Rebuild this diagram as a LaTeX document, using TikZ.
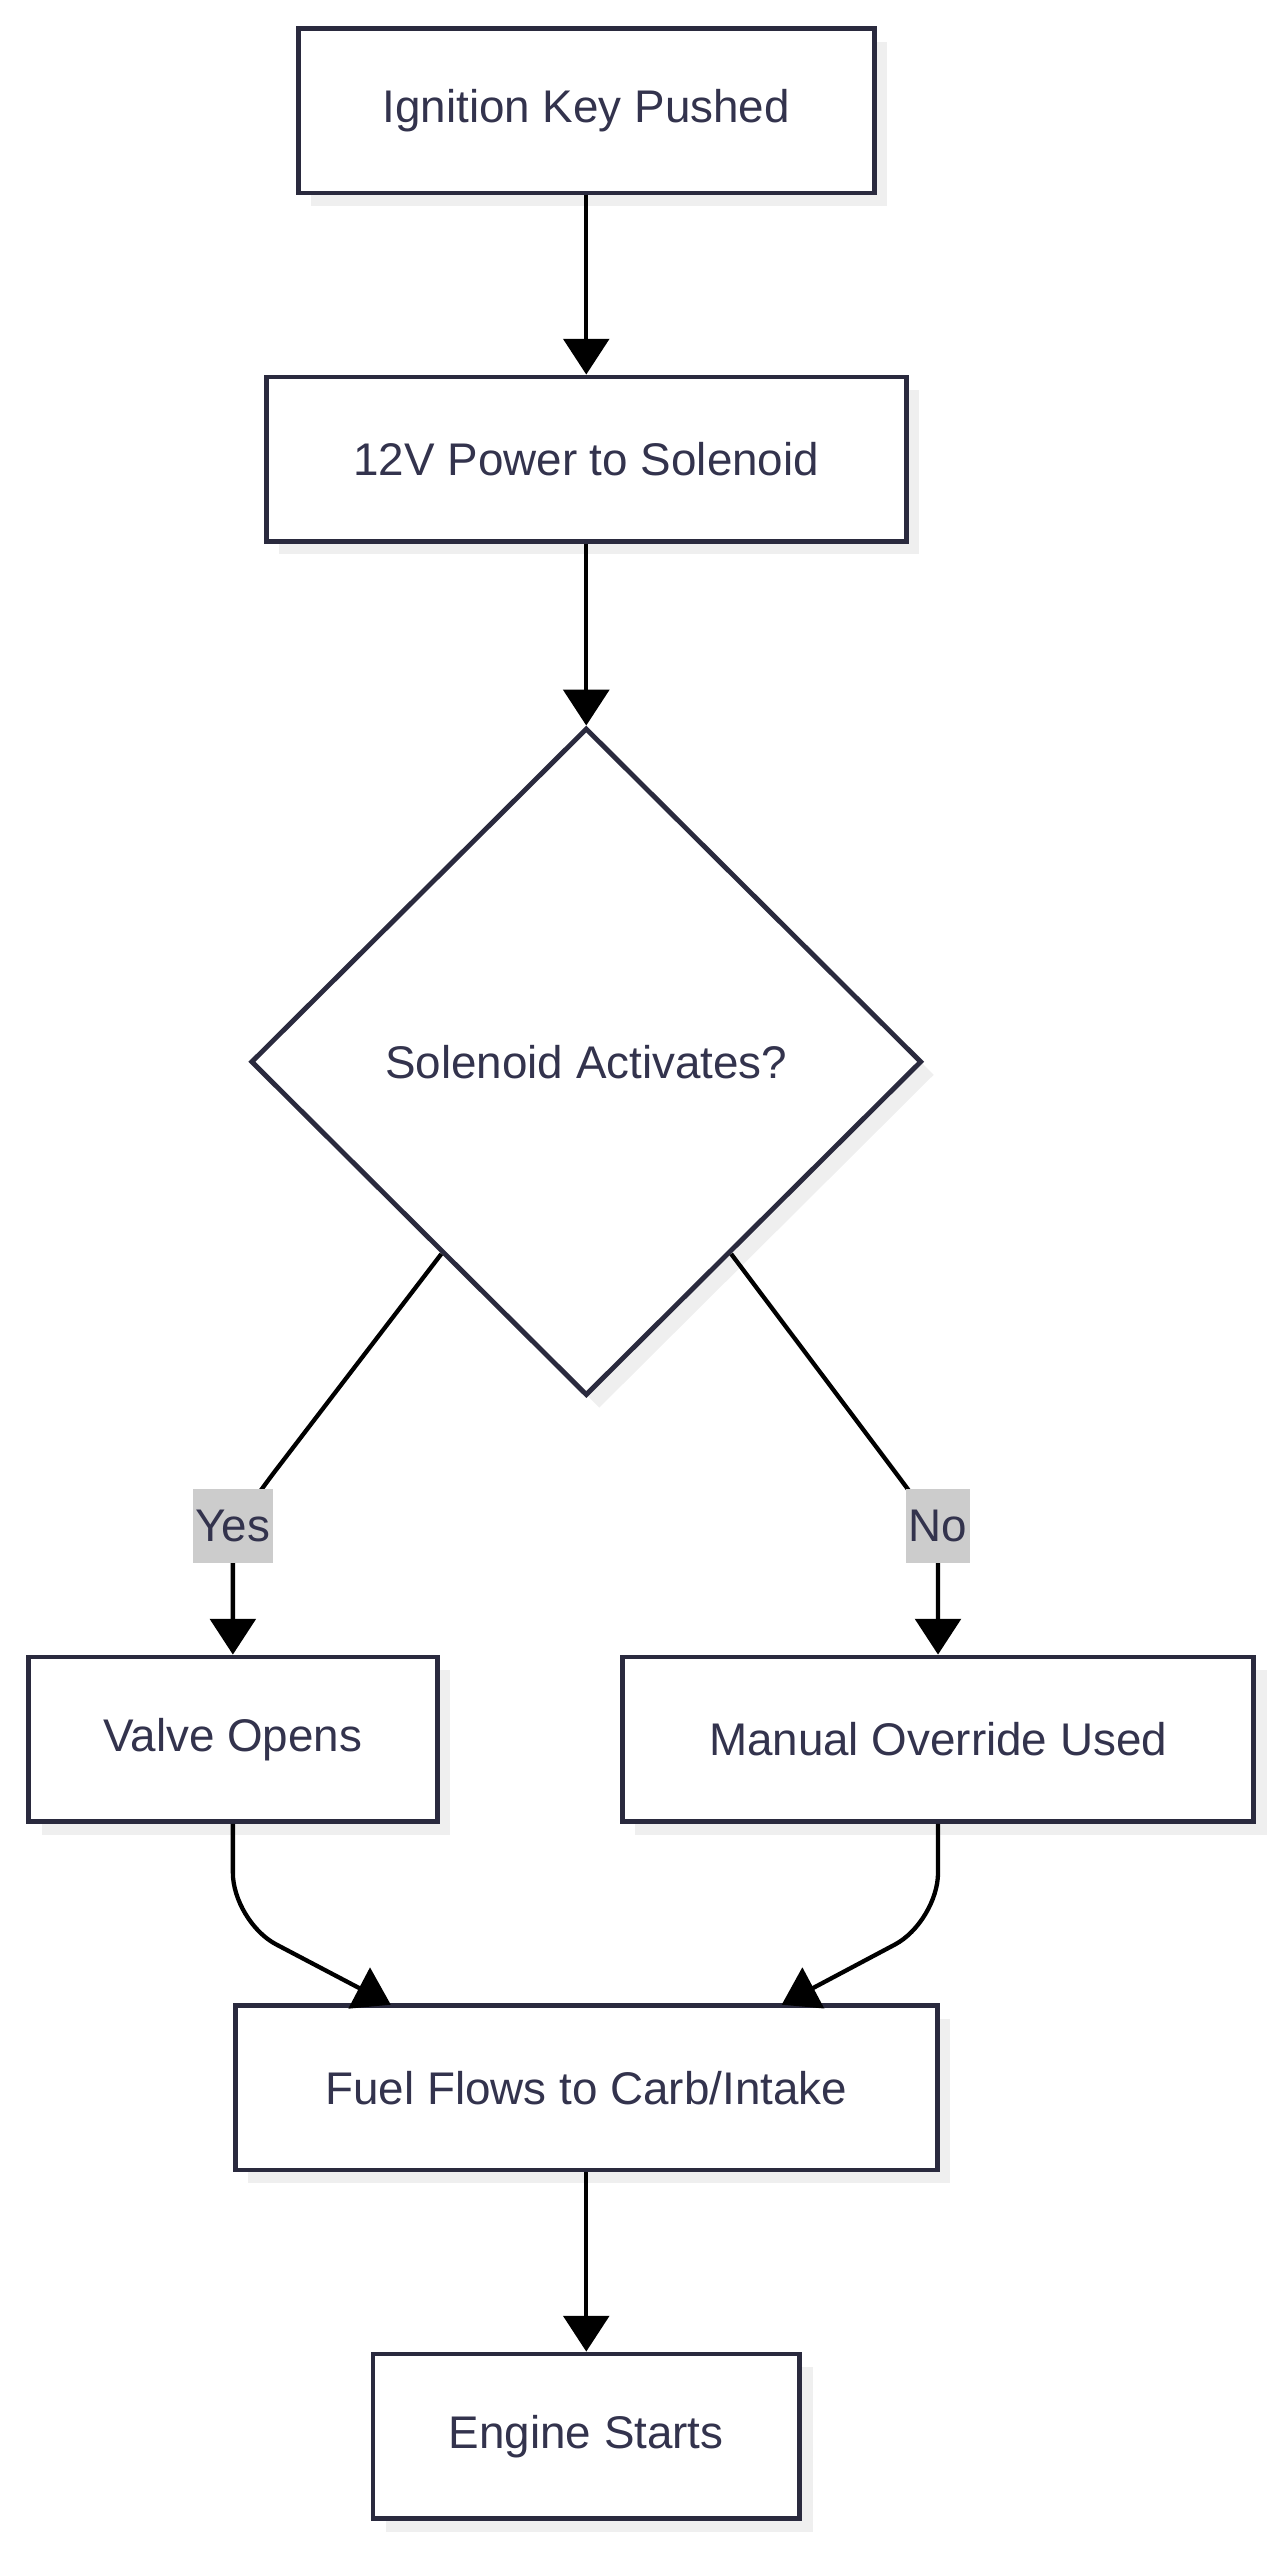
\documentclass[tikz,border=0pt]{standalone}
\usepackage{fontspec}
\setmainfont{Liberation Sans}
\usepackage{xcolor}
\usetikzlibrary{shapes.geometric,arrows.meta,shadows}
\definecolor{edgeC}{HTML}{2A2A3E}
\definecolor{textC}{HTML}{33334D}
\definecolor{shadeC}{HTML}{EFEFEF}
\definecolor{lblC}{HTML}{CCCCCC}
\tikzset{
	box/.style={draw=edgeC, line width=1.7pt, fill=white, text=textC, font=\fontsize{16}{18}\selectfont,
		minimum height=2.02cm, inner sep=0pt,
		drop shadow={shadow xshift=0.16cm, shadow yshift=-0.16cm, fill=shadeC, opacity=1}},
	dec/.style={box, diamond, minimum width=8.24cm, minimum height=8.2cm, aspect=1},
	flow/.style={line width=1.5pt, -{Triangle[width=0.56cm,length=0.44cm]}},
	tag/.style={fill=lblC, text=textC, font=\fontsize{16}{18}\selectfont, inner sep=1pt, minimum height=0.9cm}
}
\begin{document}
\begin{tikzpicture}[x=0.02cm,y=-0.02cm]
	\useasboundingbox (0,0) rectangle (790,1572);
	% boxes
	\node[box, minimum width=7.08cm] (key) at (360,68) {Ignition Key Pushed};
	\node[box, minimum width=7.86cm] (power) at (360,282) {12V Power to Solenoid};
	\node[dec] (act) at (360,652) {Solenoid Activates?};
	\node[box, minimum width=5.02cm] (valve) at (143,1068) {Valve Opens};
	\node[box, minimum width=7.76cm] (manual) at (576,1068) {Manual Override Used};
	\node[box, minimum width=8.62cm] (fuel) at (360,1282) {Fuel Flows to Carb/Intake};
	\node[box, minimum width=5.24cm] (engine) at (360,1496) {Engine Starts};
	% helper points
	\coordinate (ys) at (271,770);
	\coordinate (ns) at (449,770);
	\coordinate (yb) at (160,915);
	\coordinate (nb) at (558,915);
	% edges
	\draw[flow] (key) -- (power);
	\draw[flow] (power) -- (act);
	\draw[flow, rounded corners=0.3cm] (ys) -- (yb) -- (143,940) -- (valve.north);
	\draw[flow, rounded corners=0.3cm] (ns) -- (nb) -- (576,940) -- (manual.north);
	\node[tag] (yes) at (143,937) {Yes};
	\node[tag] (no) at (576,937) {No};
	\draw[flow, rounded corners=0.6cm] (valve.south) -- (143,1180) -- (240,1231);
	\draw[flow, rounded corners=0.6cm] (manual.south) -- (576,1180) -- (480,1231);
	\draw[flow] (fuel) -- (engine);
\end{tikzpicture}
\end{document}
